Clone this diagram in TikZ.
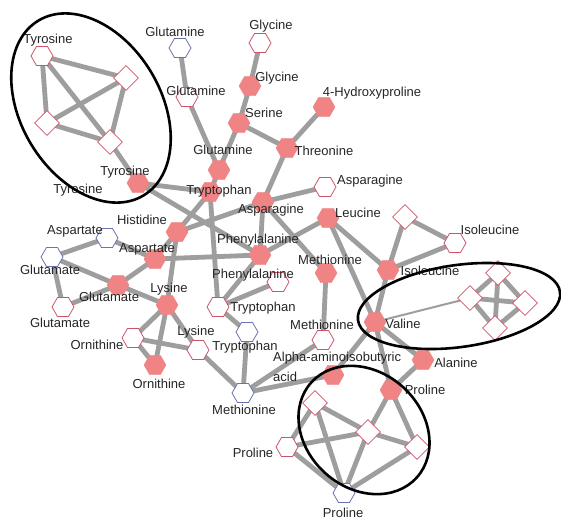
\documentclass[tikz,border=0pt]{standalone}
\usepackage{fontspec}
\setmainfont{Liberation Sans}
\usetikzlibrary{shapes.geometric,backgrounds}

\definecolor{nodefill}{RGB}{240,132,132}
\definecolor{rimred}{RGB}{205,85,105}
\definecolor{rimblue}{RGB}{105,115,175}
\definecolor{linkgray}{RGB}{158,158,158}

\begin{document}
\begin{tikzpicture}[x=1pt,y=-1pt,
  hexf/.style={regular polygon, regular polygon sides=6, minimum size=22pt, inner sep=0pt, fill=nodefill, draw=nodefill},
  hexw/.style={regular polygon, regular polygon sides=6, minimum size=22pt, inner sep=0pt, fill=white, draw=rimred, line width=0.8pt},
  hexb/.style={regular polygon, regular polygon sides=6, minimum size=22pt, inner sep=0pt, fill=white, draw=rimblue, line width=0.8pt},
  dia/.style={diamond, minimum size=25pt, inner sep=0pt, fill=white, draw=rimred, line width=0.8pt},
  lbl/.style={font=\fontsize{13}{15}\selectfont, inner sep=0pt, text=black!85},
  link/.style={draw=linkgray, line width=4.8pt},
  thinlink/.style={draw=linkgray, line width=2pt},
  ring/.style={draw=black, line width=2.6pt},
]
\useasboundingbox (0,0) rectangle (561,519);

% ---- amino acid nodes ----
% Tyrosine group
\node[hexw] (tyrA) at (42,56) {};
\node[dia]  (tyrB) at (126,78) {};
\node[dia]  (tyrC) at (47,123) {};
\node[dia]  (tyrD) at (110,142) {};
\node[hexf] (tyrF) at (138,183) {};
% upper branch
\node[hexb] (glnB) at (180,48) {};
\node[hexw] (glnW) at (187,97) {};
\node[hexf] (glnF) at (219,170) {};
\node[hexw] (glyW) at (260,43) {};
\node[hexf] (glyF) at (250,86) {};
\node[hexf] (serF) at (239,123) {};
\node[hexf] (thrF) at (287,148) {};
\node[hexf] (hypF) at (324,107) {};
% centre
\node[hexf] (trpF) at (210,192) {};
\node[hexf] (hisF) at (177,232) {};
\node[hexf] (aspF) at (155,259) {};
\node[hexb] (aspB) at (107,238) {};
\node[hexf] (gluF) at (118,285) {};
\node[hexb] (gluB) at (52,257) {};
\node[hexw] (gluW) at (63,307) {};
\node[hexf] (asnF) at (263,202) {};
\node[hexw] (asnW) at (325,187) {};
\node[hexf] (leuF) at (328,218) {};
\node[hexf] (pheF) at (260,255) {};
\node[hexw] (pheW) at (278,282) {};
\node[hexf] (metF) at (326,273) {};
\node[hexw] (trpW) at (218,307) {};
\node[hexb] (trpB) at (247,332) {};
\node[hexw] (metW) at (323,340) {};
\node[hexb] (metB) at (243,393) {};
\node[hexf] (lysF) at (167,305) {};
\node[hexw] (lysW) at (198,350) {};
\node[hexw] (ornW) at (133,338) {};
\node[hexf] (ornF) at (155,365) {};
\node[hexf] (aibF) at (333,375) {};
% right side
\node[hexf] (valF) at (375,322) {};
\node[hexf] (ileF) at (388,270) {};
\node[hexw] (ileW) at (455,243) {};
\node[dia]  (ileD) at (405,217) {};
\node[hexf] (alaF) at (423,360) {};
\node[hexf] (proF) at (391,390) {};
\node[dia]  (valA) at (470,298) {};
\node[dia]  (valB) at (498,273) {};
\node[dia]  (valC) at (525,303) {};
\node[dia]  (valD) at (495,328) {};
% Proline group
\node[dia]  (proA) at (315,403) {};
\node[dia]  (proB) at (368,432) {};
\node[dia]  (proC) at (417,447) {};
\node[hexw] (proW) at (287,447) {};
\node[hexb] (proH) at (344,493) {};

% ---- links (behind the nodes) ----
\begin{pgfonlayer}{background}
\fill[white] (0,0) rectangle (561,519);
\foreach \a/\b in {tyrA/tyrB, tyrA/tyrC, tyrA/tyrD, tyrB/tyrC, tyrB/tyrD, tyrC/tyrD, tyrD/tyrF,
  glnB/glnW, glnW/glnF, glyW/glyF, glyF/serF, serF/glnF, serF/thrF, thrF/hypF, thrF/asnF,
  glnF/trpF, tyrF/trpF, tyrF/pheF, trpF/hisF, trpF/trpW,
  hisF/asnF, hisF/lysF, hisF/aspF,
  aspF/aspB, aspF/gluF, aspF/pheF,
  gluF/gluB, gluF/gluW, gluF/lysF, gluB/aspB, gluB/gluW,
  asnF/asnW, asnF/pheF, asnF/metF,
  pheF/leuF, pheF/trpW, trpW/pheW, trpW/trpB, trpB/metB,
  metF/metW, metW/metB, aibF/metB, aibF/valF,
  lysF/ornW, lysF/ornF, lysF/lysW, ornW/ornF, ornW/lysW, lysW/metB,
  leuF/ileF, leuF/valF, ileF/ileD, ileF/ileW, ileD/ileW, ileF/valF,
  valF/alaF, valF/proF, alaF/proF,
  valA/valB, valA/valC, valA/valD, valB/valC, valB/valD, valC/valD,
  proF/proB, proF/proC,
  proA/proB, proA/proW, proA/proH, proW/proB, proW/proH, proH/proB, proH/proC, proB/proC}
  \draw[link] (\a.center) -- (\b.center);
\draw[thinlink] (valF.center) -- (valA.center);
\end{pgfonlayer}

% ---- labels ----
\node[lbl] (t01) at (48,40) {Tyrosine};
\node[lbl] (t02) at (175,32) {Glutamine};
\node[lbl] (t03) at (271,26) {Glycine};
\node[lbl] (t04) at (277,78) {Glycine};
\node[lbl] (t05) at (196,91) {Glutamine};
\node[lbl] (t06) at (372,93) {4-Hydroxyproline};
\node[lbl] (t07) at (264,113) {Serine};
\node[lbl] (t08) at (324,151) {Threonine};
\node[lbl] (t09) at (223,150) {Glutamine};
\node[lbl] (t10) at (125,172) {Tyrosine};
\node[lbl] (t11) at (78,190) {Tyrosine};
\node[lbl] (t12) at (219,191) {Tryptophan};
\node[lbl] (t13) at (370,181) {Asparagine};
\node[lbl] (t14) at (271,210) {Asparagine};
\node[lbl] (t15) at (358,213) {Leucine};
\node[lbl] (t16) at (142,220) {Histidine};
\node[lbl] (t17) at (75,231) {Aspartate};
\node[lbl] (t18) at (147,249) {Aspartate};
\node[lbl] (t19) at (258,240) {Phenylalanine};
\node[lbl] (t20) at (330,260) {Methionine};
\node[lbl] (t21) at (490,230) {Isoleucine};
\node[lbl] (t22) at (430,271) {Isoleucine};
\node[lbl] (t23) at (50,270) {Glutamate};
\node[lbl] (t24) at (109,297) {Glutamate};
\node[lbl] (t25) at (253,275) {Phenylalanine};
\node[lbl] (t26) at (169,289) {Lysine};
\node[lbl] (t27) at (263,308) {Tryptophan};
\node[lbl] (t28) at (60,323) {Glutamate};
\node[lbl] (t29) at (403,324) {Valine};
\node[lbl] (t30) at (322,325) {Methionine};
\node[lbl] (t31) at (196,332) {Lysine};
\node[lbl] (t32) at (97,345) {Ornithine};
\node[lbl] (t33) at (245,347) {Tryptophan};
\node[lbl, align=left, anchor=west, font=\fontsize{13}{20}\selectfont] (t34) at (273,367) {Alpha-aminoisobutyric\\acid};
\node[lbl] (t35) at (456,363) {Alanine};
\node[lbl] (t36) at (159,384) {Ornithine};
\node[lbl] (t37) at (425,390) {Proline};
\node[lbl] (t38) at (244,410) {Methionine};
\node[lbl] (t39) at (253,453) {Proline};
\node[lbl] (t40) at (343,513) {Proline};

% ---- highlighted groups ----
\begin{scope}[shift={(91,108)}, rotate=-59]
  \draw[ring] (0,0) ellipse [x radius=102, y radius=70];
\end{scope}
\begin{scope}[shift={(459,306)}, rotate=8]
  \draw[ring] (0,0) ellipse [x radius=102, y radius=41];
\end{scope}
\begin{scope}[shift={(364,430)}, rotate=-42]
  \draw[ring] (0,0) ellipse [x radius=71, y radius=58];
\end{scope}
\end{tikzpicture}
\end{document}
